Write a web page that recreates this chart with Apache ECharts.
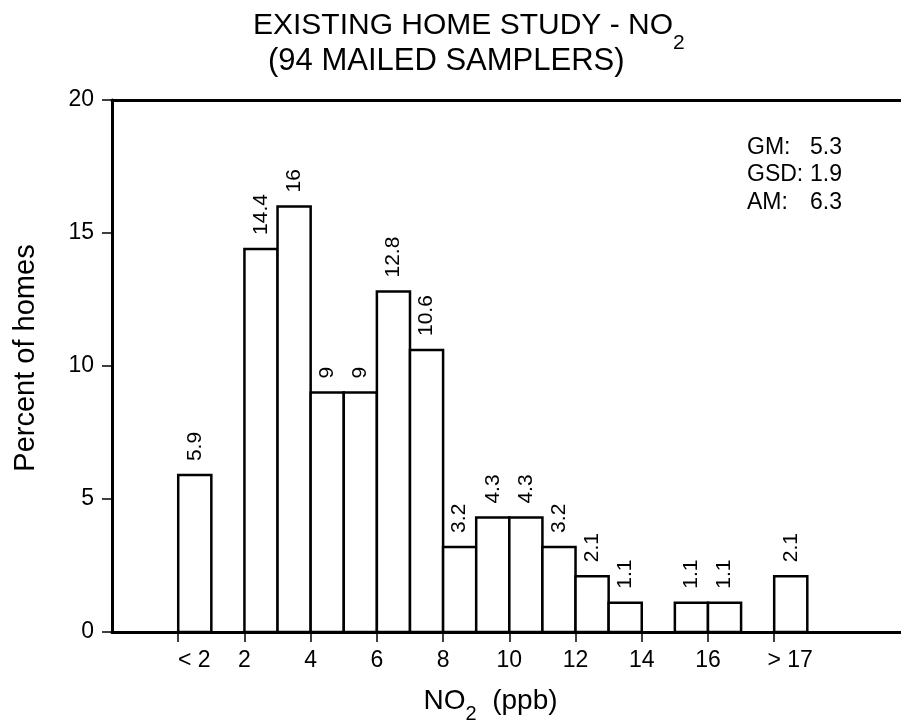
<!DOCTYPE html>
<html><head><meta charset="utf-8">
<script src="https://cdn.jsdelivr.net/npm/echarts@6/dist/echarts.min.js"></script>
<style>html,body{margin:0;padding:0;background:#fff}#c{width:901px;height:720px}</style>
</head><body><div id="c"></div>
<script>
// Histogram bins (x units = NO2 ppb; "<2" bin drawn at 0-1, ">17" bin drawn at 18-19)
const binStart = [0, 2, 3, 4, 5, 6, 7, 8, 9, 10, 11, 12, 13, 14, 15, 16, 18];
const binEnd   = [1, 3, 4, 5, 6, 7, 8, 9, 10, 11, 12, 13, 14, 15, 16, 17, 19];
const percentHomes = [5.9, 14.4, 16, 9, 9, 12.8, 10.6, 3.2, 4.3, 4.3, 3.2, 2.1, 1.1, 0, 1.1, 1.1, 2.1];
const xTickValues = [0, 2, 4, 6, 8, 10, 12, 14, 16, 18];
const xTickLabels = ['< 2', '2', '4', '6', '8', '10', '12', '14', '16', '> 17'];
const statLabels = ['GM:', 'GSD:', 'AM:'];
const statValues = ['5.3', '1.9', '6.3'];

const FONT = '"Liberation Sans", Arial, Helvetica, sans-serif';
const chart = echarts.init(document.getElementById('c'), null, {renderer: 'canvas'});

const data = binStart.map((s, i) => [s, binEnd[i], percentHomes[i]]);

const option = {
  animation: false,
  backgroundColor: '#fff',
  title: [
    {
      text: '{a|EXISTING HOME STUDY - NO}{s|2}',
      left: 253, top: 9, padding: 0,
      textStyle: {
        fontWeight: 'normal',
        rich: {
          a: {fontSize: 30, fontFamily: FONT, color: '#000', fontWeight: 'normal', lineHeight: 34},
          s: {fontSize: 21, fontFamily: FONT, color: '#000', fontWeight: 'normal', lineHeight: 22, padding: [34, 0, 0, 0]}
        }
      }
    },
    {
      text: '(94 MAILED SAMPLERS)',
      left: 268, top: 46, padding: 0,
      textStyle: {fontSize: 31, fontFamily: FONT, color: '#000', fontWeight: 'normal', lineHeight: 31}
    }
  ],
  grid: {left: 112, right: 0, top: 100, bottom: 88, containLabel: false, outerBoundsMode: 'none'},
  xAxis: [
    {
      type: 'value', min: -2, max: 21.83,
      axisLine: {show: true, onZero: false, lineStyle: {color: '#000', width: 3}},
      axisTick: {show: true, customValues: xTickValues, length: 10, lineStyle: {color: '#000', width: 1.5}},
      axisLabel: {
        show: true, customValues: xTickValues, margin: 17,
        color: '#000', fontSize: 23, fontFamily: FONT,
        formatter: function (v) {
          const i = xTickValues.indexOf(v);
          if (i < 0) return '';
          if (i === 0 || i === xTickValues.length - 1) return '{p|' + xTickLabels[i] + '}';
          return xTickLabels[i];
        },
        rich: {p: {fontSize: 23, fontFamily: FONT, color: '#000', padding: [0, 0, 0, 32]}}
      },
      splitLine: {show: false},
      name: '{a|NO}{s|2}{a|  (ppb)}',
      nameLocation: 'middle', nameGap: 30,
      nameTextStyle: {
        padding: [0, 32, 0, 0],
        rich: {
          a: {fontSize: 28, fontFamily: FONT, color: '#000', lineHeight: 30},
          s: {fontSize: 20, fontFamily: FONT, color: '#000', lineHeight: 20, padding: [28, 0, 0, 0]}
        }
      }
    },
    {
      type: 'value', min: -2, max: 21.83, position: 'top',
      axisLine: {show: true, onZero: false, lineStyle: {color: '#000', width: 3}},
      axisTick: {show: false}, axisLabel: {show: false}, splitLine: {show: false}
    }
  ],
  yAxis: {
    type: 'value', min: 0, max: 20, interval: 5,
    axisLine: {show: true, onZero: false, lineStyle: {color: '#000', width: 3}},
    axisTick: {show: true, length: 10, lineStyle: {color: '#000', width: 1.5}},
    axisLabel: {color: '#000', fontSize: 23, fontFamily: FONT, margin: 18},
    splitLine: {show: false},
    name: 'Percent of homes', nameLocation: 'middle', nameGap: 72,
    nameTextStyle: {fontSize: 29, fontFamily: FONT, color: '#000', padding: [0, 0, 0, 16]}
  },
  graphic: [
    {
      type: 'text', left: 747, top: 136,
      style: {
        text: statLabels.map((k, i) => '{k|' + k + '}{v|' + statValues[i] + '}').join('\n'),
        rich: {
          k: {fontSize: 23, fontFamily: FONT, fill: '#000', width: 63, lineHeight: 27.5},
          v: {fontSize: 23, fontFamily: FONT, fill: '#000', lineHeight: 27.5}
        }
      }
    }
  ],
  series: [{
    type: 'custom',
    xAxisIndex: 0,
    data: data,
    encode: {x: [0, 1], y: 2},
    renderItem: function (params, api) {
      const s = api.value(0), e = api.value(1), v = api.value(2);
      if (!v) return null;
      const p0 = api.coord([s, 0]);
      const p1 = api.coord([e, v]);
      const x = p0[0], w = p1[0] - p0[0], y = p1[1], h = p0[1] - p1[1];
      return {
        type: 'group',
        children: [
          {type: 'rect', shape: {x: x, y: y, width: w, height: h},
           style: {fill: '#fff', stroke: '#000', lineWidth: 2.5}},
          {type: 'text', x: x + w / 2, y: y - 14, rotation: Math.PI / 2,
           style: {text: String(v), fill: '#000', fontSize: 21, fontFamily: FONT,
                   align: 'left', verticalAlign: 'middle'}}
        ]
      };
    }
  }]
};
chart.setOption(option);
</script>
</body></html>
